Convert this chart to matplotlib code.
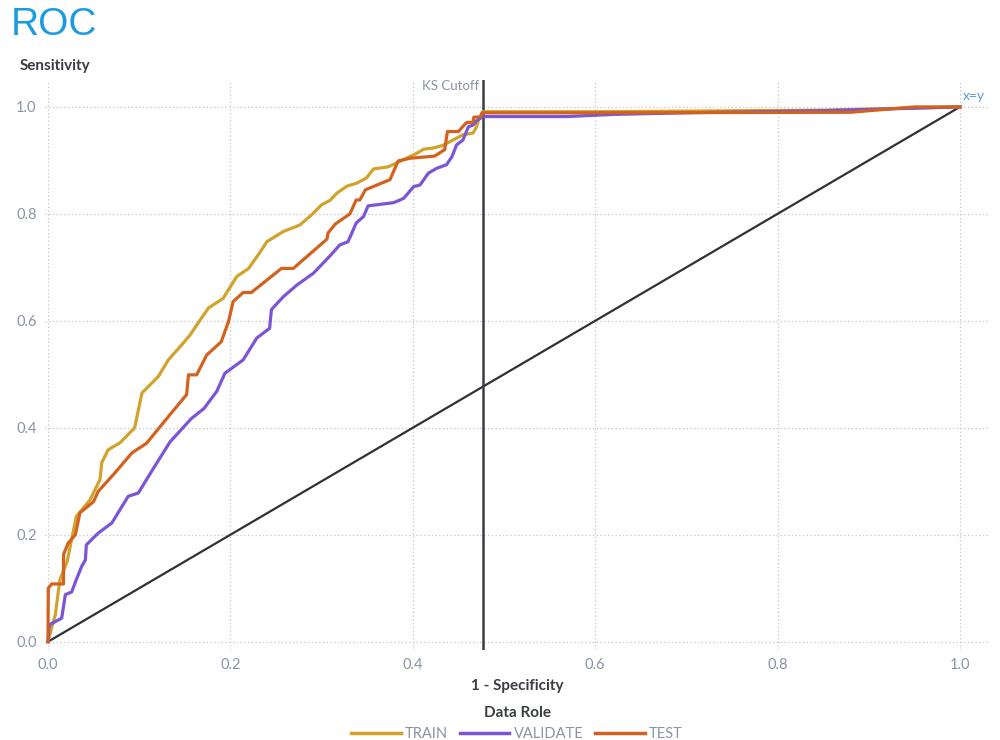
import matplotlib
matplotlib.use("Agg")
import matplotlib.pyplot as plt
from matplotlib.lines import Line2D

plt.rcParams['font.family'] = ['Lato', 'DejaVu Sans']

# ROC data (1 - specificity, sensitivity)
train_fpr = [0, 0.004, 0.008, 0.013, 0.021, 0.031, 0.046, 0.057, 0.059, 0.066, 0.079, 0.095,
             0.103, 0.121, 0.132, 0.145, 0.156, 0.167, 0.176, 0.192, 0.207, 0.220, 0.232, 0.240,
             0.258, 0.276, 0.289, 0.300, 0.309, 0.317, 0.328, 0.338, 0.349, 0.357, 0.373, 0.382,
             0.393, 0.404, 0.412, 0.422, 0.433, 0.444, 0.455, 0.466, 0.470, 0.472, 0.477,
             0.6, 0.85, 0.95, 1.0]
train_tpr = [0, 0.026, 0.050, 0.116, 0.150, 0.234, 0.265, 0.303, 0.335, 0.359, 0.372, 0.400,
             0.465, 0.496, 0.527, 0.552, 0.574, 0.602, 0.624, 0.642, 0.683, 0.698, 0.727, 0.748,
             0.767, 0.779, 0.798, 0.817, 0.825, 0.839, 0.852, 0.857, 0.867, 0.884, 0.888, 0.895,
             0.904, 0.913, 0.921, 0.923, 0.928, 0.938, 0.948, 0.951, 0.963, 0.976, 0.991,
             0.991, 0.994, 0.998, 1.0]

valid_fpr = [0, 0.001, 0.002, 0.015, 0.019, 0.026, 0.031, 0.037, 0.041, 0.042, 0.055, 0.070,
             0.088, 0.099, 0.117, 0.134, 0.157, 0.171, 0.185, 0.194, 0.214, 0.229, 0.243, 0.245,
             0.258, 0.273, 0.291, 0.309, 0.320, 0.329, 0.338, 0.346, 0.351, 0.379, 0.390, 0.401,
             0.408, 0.417, 0.426, 0.437, 0.443, 0.448, 0.455, 0.461, 0.466, 0.470, 0.477,
             0.569, 0.62, 0.70, 0.85, 1.0]
valid_tpr = [0, 0.026, 0.032, 0.044, 0.088, 0.093, 0.116, 0.141, 0.153, 0.181, 0.203, 0.222,
             0.272, 0.278, 0.328, 0.374, 0.417, 0.436, 0.468, 0.502, 0.527, 0.568, 0.586, 0.621,
             0.645, 0.667, 0.689, 0.721, 0.742, 0.748, 0.783, 0.795, 0.815, 0.821, 0.829, 0.851,
             0.854, 0.876, 0.885, 0.892, 0.907, 0.929, 0.938, 0.963, 0.966, 0.974, 0.982,
             0.982, 0.986, 0.989, 0.993, 1.0]

test_fpr = [0, 0.0003, 0.004, 0.017, 0.017, 0.022, 0.030, 0.035, 0.050, 0.055, 0.073, 0.092,
            0.108, 0.132, 0.152, 0.154, 0.163, 0.174, 0.190, 0.198, 0.203, 0.214, 0.223, 0.256,
            0.269, 0.306, 0.307, 0.315, 0.331, 0.338, 0.342, 0.348, 0.375, 0.384, 0.397, 0.424,
            0.435, 0.438, 0.450, 0.459, 0.466, 0.467, 0.474, 0.476, 0.6, 0.88, 0.95, 1.0]
test_tpr = [0, 0.100, 0.108, 0.108, 0.163, 0.184, 0.200, 0.241, 0.262, 0.281, 0.315, 0.353,
            0.371, 0.421, 0.462, 0.499, 0.499, 0.536, 0.561, 0.599, 0.636, 0.653, 0.653, 0.698,
            0.698, 0.753, 0.764, 0.781, 0.800, 0.826, 0.826, 0.845, 0.864, 0.899, 0.904, 0.908,
            0.920, 0.954, 0.954, 0.971, 0.971, 0.981, 0.981, 0.989, 0.989, 0.990, 1.0, 1.0]

ks_cutoff = 0.477

roles = ["TRAIN", "VALIDATE", "TEST"]
colors = ["#d1a22c", "#7a55d6", "#d2621e"]

fig = plt.figure(figsize=(10, 7.4), dpi=100)
ax = fig.add_axes([0.045, 0.122, 0.945, 0.770])

ax.plot([0, 1], [0, 1], color="#2f3133", lw=1.6, zorder=2)
ax.axvline(ks_cutoff, color="#3a3e44", lw=1.8, zorder=2)

ax.plot(train_fpr, train_tpr, color=colors[0], lw=2.3, zorder=3)
ax.plot(valid_fpr, valid_tpr, color=colors[1], lw=2.3, zorder=4)
ax.plot(test_fpr, test_tpr, color=colors[2], lw=2.3, zorder=5)

ax.set_xlim(-0.0033, 1.033)
ax.set_ylim(-0.015, 1.0505)
ticks = [0.0, 0.2, 0.4, 0.6, 0.8, 1.0]
ax.set_xticks(ticks)
ax.set_yticks(ticks)
ax.set_xticklabels([f"{t:.1f}" for t in ticks])
ax.set_yticklabels([f"{t:.1f}" for t in ticks])
ax.tick_params(length=0, labelsize=10.5, colors="#8a93a3", pad=6)
ax.grid(True, color="#c4c4c4", linestyle=(0, (1, 2)), lw=0.9)
ax.set_axisbelow(True)
for s in ax.spines.values():
    s.set_visible(False)

ax.text(ks_cutoff - 0.004, 1.04, "KS Cutoff", ha="right", va="center",
        fontsize=9.5, color="#8a93a3")
ax.text(1.003, 1.02, "x=y", ha="left", va="center", fontsize=10, color="#5a9bd8")

fig.text(0.011, 0.966, "ROC", fontsize=28, color="#1a9be2", va="center", ha="left",
         family=["Liberation Sans", "DejaVu Sans"])
fig.text(0.02, 0.911, "Sensitivity", fontsize=11, fontweight="bold", color="#3a3d42",
         va="center", ha="left")
fig.text(0.517, 0.073, "1 - Specificity", fontsize=11, fontweight="bold", color="#3a3d42",
         va="center", ha="center")

handles = [Line2D([], [], color=c, lw=2.5) for c in colors]
leg = fig.legend(handles, roles, loc="center", bbox_to_anchor=(0.517, 0.022), ncol=3,
                 frameon=False, fontsize=10.5, handlelength=3.4, handletextpad=0.3,
                 columnspacing=0.8, title="Data Role", borderaxespad=0)
leg.get_title().set_fontweight("bold")
leg.get_title().set_fontsize(11)
leg.get_title().set_color("#3a3d42")
for t in leg.get_texts():
    t.set_color("#8a93a3")

fig.savefig("out.png", dpi=100)
